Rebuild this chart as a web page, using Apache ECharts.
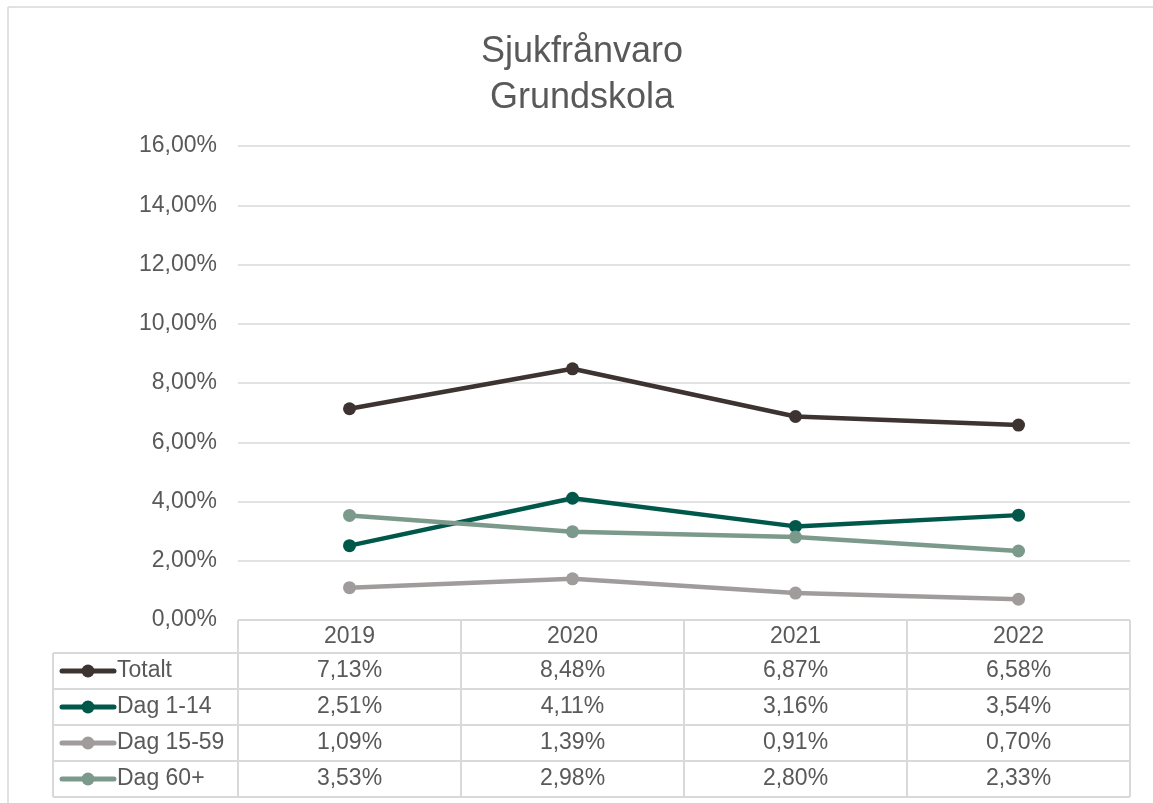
<!DOCTYPE html>
<html>
<head>
<meta charset="utf-8">
<script src="https://cdn.jsdelivr.net/npm/echarts@6/dist/echarts.min.js"></script>
<style>
  html, body { margin: 0; padding: 0; background: #fff; }
  #main { width: 1153px; height: 803px; }
</style>
</head>
<body>
<div id="main"></div>
<script>
// data
var years = ['2019', '2020', '2021', '2022'];
var seriesNames = ['Totalt', 'Dag 1-14', 'Dag 15-59', 'Dag 60+'];
var totalt = [7.13, 8.48, 6.87, 6.58];
var dag1_14 = [2.51, 4.11, 3.16, 3.54];
var dag15_59 = [1.09, 1.39, 0.91, 0.70];
var dag60 = [3.53, 2.98, 2.80, 2.33];
var colors = ['#3d3431', '#00584a', '#a09c9c', '#7c9a8b'];

var chart = echarts.init(document.getElementById('main'));

// layout
var gLeft = 238, gRight = 1130, gTop = 146, gBottom = 620;
var legLeft = 53, rowH = 36, headH = 33;
var colW = (gRight - gLeft) / years.length;
var fontFam = 'Arial, "Liberation Sans", sans-serif';
var txtColor = '#595959';
var lineColor = '#d9d9d9';
var fs = 23;

function fmt(v) {
    return v.toFixed(2).replace('.', ',') + '%';
}

var allData = [totalt, dag1_14, dag15_59, dag60];

// table graphic
var graphic = [];
// outer chart border (left / top)
graphic.push({ type: 'line', shape: { x1: 8, y1: 7, x2: 8, y2: 803 }, style: { stroke: lineColor, lineWidth: 1.5 } });
graphic.push({ type: 'line', shape: { x1: 8, y1: 7, x2: 1153, y2: 7 }, style: { stroke: lineColor, lineWidth: 1.5 } });

var tableTop = gBottom;
var bodyTop = tableTop + headH;
var tableBottom = bodyTop + rowH * seriesNames.length;
// header top line
graphic.push({ type: 'line', shape: { x1: gLeft, y1: tableTop, x2: gRight, y2: tableTop }, style: { stroke: lineColor, lineWidth: 2 } });
// row lines
for (var r = 0; r <= seriesNames.length; r++) {
    var y = bodyTop + r * rowH;
    graphic.push({ type: 'line', shape: { x1: legLeft, y1: y, x2: gRight, y2: y }, style: { stroke: lineColor, lineWidth: 2 } });
}
// vertical lines
graphic.push({ type: 'line', shape: { x1: legLeft, y1: bodyTop, x2: legLeft, y2: tableBottom }, style: { stroke: lineColor, lineWidth: 2 } });
for (var c = 0; c <= years.length; c++) {
    var x = gLeft + c * colW;
    graphic.push({ type: 'line', shape: { x1: x, y1: tableTop, x2: x, y2: tableBottom }, style: { stroke: lineColor, lineWidth: 2 } });
}
// row contents
seriesNames.forEach(function (name, i) {
    var cy = bodyTop + i * rowH + rowH / 2;
    graphic.push({ type: 'line', shape: { x1: 62, y1: cy, x2: 114, y2: cy }, style: { stroke: colors[i], lineWidth: 5, lineCap: 'round' } });
    graphic.push({ type: 'circle', shape: { cx: 88, cy: cy, r: 6.5 }, style: { fill: colors[i] } });
    graphic.push({ type: 'text', x: 117, y: cy, style: { text: name, fill: txtColor, font: fs + 'px ' + fontFam, textVerticalAlign: 'middle', textAlign: 'left' } });
    allData[i].forEach(function (v, j) {
        graphic.push({ type: 'text', x: gLeft + colW * (j + 0.5), y: cy, style: { text: fmt(v), fill: txtColor, font: fs + 'px ' + fontFam, textVerticalAlign: 'middle', textAlign: 'center' } });
    });
});

var option = {
    backgroundColor: '#fff',
    color: colors,
    animation: false,
    title: {
        text: 'Sjukfrånvaro\nGrundskola',
        left: 577,
        textAlign: 'center',
        top: 24,
        textStyle: { fontFamily: fontFam, fontSize: 36, fontWeight: 'normal', color: txtColor, lineHeight: 46 }
    },
    grid: {
        left: gLeft,
        right: 1153 - gRight,
        top: gTop,
        bottom: 803 - gBottom
    },
    xAxis: {
        type: 'category',
        data: years,
        boundaryGap: true,
        axisLine: { show: false },
        axisTick: { show: false },
        axisLabel: { color: txtColor, fontFamily: fontFam, fontSize: fs, margin: 5 }
    },
    yAxis: {
        type: 'value',
        min: 0,
        max: 16,
        interval: 2,
        axisLine: { show: false },
        axisTick: { show: false },
        axisLabel: {
            color: txtColor, fontFamily: fontFam, fontSize: fs, margin: 21,
            formatter: function (v) { return fmt(v); }
        },
        splitLine: { lineStyle: { color: lineColor, width: 1.5 } }
    },
    series: seriesNames.map(function (name, i) {
        return {
            name: name,
            type: 'line',
            data: allData[i],
            symbol: 'circle',
            symbolSize: 13,
            lineStyle: { width: 4.5, color: colors[i] },
            itemStyle: { color: colors[i] }
        };
    }),
    graphic: graphic
};

chart.setOption(option);
</script>
</body>
</html>
